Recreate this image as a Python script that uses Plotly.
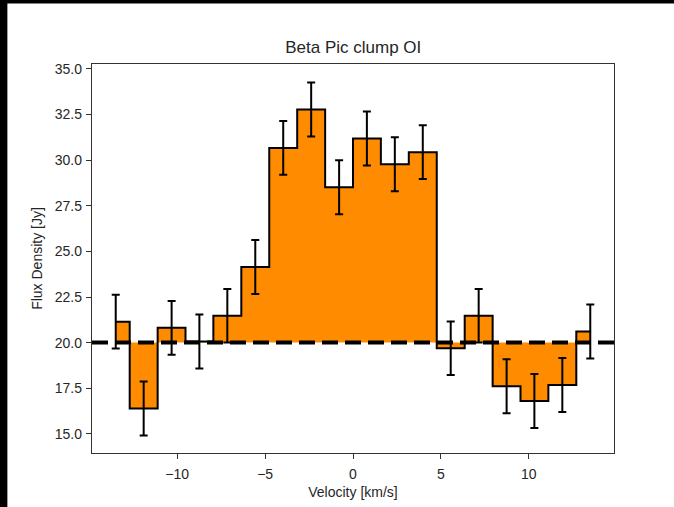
import plotly.graph_objects as go

# ---- data ----
velocity = [-13.5, -11.91, -10.32, -8.74, -7.15, -5.56, -3.97, -2.38, -0.79,
            0.79, 2.38, 3.97, 5.56, 7.15, 8.74, 10.32, 11.91, 13.5]
flux = [21.15, 16.39, 20.81, 20.06, 21.47, 24.15, 30.67, 32.77, 28.52,
        31.19, 29.77, 30.44, 19.69, 21.47, 17.61, 16.80, 17.68, 20.61]
flux_err = [1.47, 1.48, 1.47, 1.48, 1.47, 1.48, 1.47, 1.48, 1.48,
            1.48, 1.48, 1.47, 1.47, 1.47, 1.48, 1.48, 1.48, 1.48]
baseline = 20.0

x_ticks = [-10, -5, 0, 5, 10]
x_ticklabels = ["\u221210", "\u22125", "0", "5", "10"]
y_ticks = [15.0, 17.5, 20.0, 22.5, 25.0, 27.5, 30.0, 32.5, 35.0]
y_ticklabels = ["15.0", "17.5", "20.0", "22.5", "25.0", "27.5", "30.0", "32.5", "35.0"]

title = "Beta Pic clump OI"
x_title = "Velocity [km/s]"
y_title = "Flux Density [Jy]"

# ---- layout geometry ----
W, H = 674, 507
L, R, T, B = 92, 59.5, 63.5, 53.7
pw, ph = W - L - R, H - T - B
FONT = "Liberation Sans, Arial, Helvetica, sans-serif"
TXT = "#262626"
SPINE = "#333333"

fig = go.Figure()

# baseline trace to fill against
fig.add_trace(go.Scatter(
    x=[velocity[0], velocity[-1]], y=[baseline, baseline],
    mode="lines", line=dict(width=0, color="rgba(0,0,0,0)"),
    hoverinfo="skip", showlegend=False))

# stepped flux with fill
fig.add_trace(go.Scatter(
    x=velocity, y=flux, mode="lines",
    line=dict(shape="hvh", color="black", width=2),
    fill="tonexty", fillcolor="#FF8C00",
    showlegend=False))

# error bars
fig.add_trace(go.Scatter(
    x=velocity, y=flux, mode="markers",
    marker=dict(size=1, color="rgba(0,0,0,0)"),
    error_y=dict(type="data", array=flux_err, visible=True,
                 color="black", thickness=2, width=4),
    showlegend=False))

# dashed horizontal line at the baseline
fig.add_shape(type="line", xref="paper", x0=0, x1=1, yref="y",
              y0=baseline, y1=baseline,
              line=dict(color="black", width=4, dash="16px,7px"),
              layer="above")

# black bands at top and left edge (screenshot border)
fig.add_shape(type="rect", xref="paper", yref="paper",
              x0=-L / pw - 0.01, x1=(W - L) / pw + 0.01,
              y0=(ph + T - 3) / ph, y1=(ph + T) / ph + 0.01,
              fillcolor="black", line=dict(width=0), layer="above")
fig.add_shape(type="rect", xref="paper", yref="paper",
              x0=-L / pw - 0.01, x1=(7.3 - L) / pw,
              y0=-B / ph - 0.01, y1=(ph + T) / ph + 0.01,
              fillcolor="black", line=dict(width=0), layer="above")

axis_common = dict(
    showgrid=False, zeroline=False, showline=True, mirror=True,
    linecolor=SPINE, linewidth=1.3, ticks="outside", ticklen=5,
    tickwidth=1.2, tickcolor=SPINE,
    tickfont=dict(family=FONT, size=14, color=TXT),
)

fig.update_layout(
    width=W, height=H,
    margin=dict(l=L, r=R, t=T, b=B, pad=0),
    paper_bgcolor="white", plot_bgcolor="white",
    title=dict(text=title, x=(L + pw / 2) / W, xanchor="center",
               y=1 - 47 / H, yanchor="middle", yref="container",
               font=dict(family=FONT, size=17, color=TXT)),
    xaxis=dict(range=[-14.85, 14.85], tickvals=x_ticks, ticktext=x_ticklabels,
               ticklabelstandoff=3,
               title=dict(text=x_title, standoff=6,
                          font=dict(family=FONT, size=14, color=TXT)),
               automargin=False, **axis_common),
    yaxis=dict(range=[13.95, 35.27], tickvals=y_ticks, ticktext=y_ticklabels,
               ticklabelstandoff=1,
               title=dict(text=y_title, standoff=8,
                          font=dict(family=FONT, size=14, color=TXT)),
               automargin=False, **axis_common),
)

fig.write_html("out.html")
